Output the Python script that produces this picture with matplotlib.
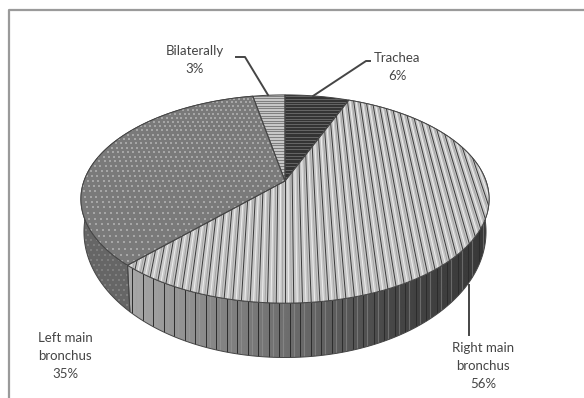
#!/usr/bin/env python3
"""3D-style pie of tumour location, drawn by hand with a perspective disc."""
import numpy as np
import matplotlib
matplotlib.use('Agg')
import matplotlib.pyplot as plt
from matplotlib.patches import Polygon

matplotlib.rcParams['font.family'] = ['Lato', 'DejaVu Sans']

CATEGORIES = ['Trachea', 'Right main\nbronchus', 'Left main\nbronchus', 'Bilaterally']
PERCENTS = [6, 56, 35, 3]

TEXT_COLOR = '#454545'
EDGE = '#454545'

# disc perspective, in pixels
CX, CY = 285, 181
A_TOP, B_TOP = 201, 101
A_BOT, B_BOT = 198, 122
DROP = 29
C = 0.173


def to_px(u, v, a=A_TOP, b=B_TOP, drop=0):
    w = 1 + C * np.asarray(v)
    return CX + a * np.asarray(u) / w, CY + drop - b * np.asarray(v) / w


def rim(f0, f1, bottom=False, n=200):
    t = np.linspace(f0, f1, n) * 2 * np.pi
    if bottom:
        x, y = to_px(np.sin(t), np.cos(t), A_BOT, B_BOT, DROP)
    else:
        x, y = to_px(np.sin(t), np.cos(t))
    return np.column_stack([x, y])


def wedge_poly(f0, f1):
    return np.vstack([[CX, CY], rim(f0, f1)])


def wall_poly(f0, f1):
    return np.vstack([rim(f0, f1), rim(f0, f1, bottom=True)[::-1]])


def add_clip(ax, pts, fc, z):
    patch = Polygon(pts, closed=True, fc=fc, ec='none', zorder=z)
    ax.add_patch(patch)
    return patch


def stripes_on_top(ax, clip, z):
    # constant-u lines run towards the disc's vanishing point
    du = 0.036
    vv = np.array([-1.0, 1.0])
    for k in np.arange(-30, 31):
        u = k * du
        x, y = to_px(np.full(2, u), vv)
        ln, = ax.plot(x, y, color='#3a3a3a', lw=0.7, zorder=z)
        ln.set_clip_path(clip)
        x, y = to_px(np.full(2, u + 0.4 * du), vv)
        ln, = ax.plot(x, y, color='#eeeeee', lw=0.7, zorder=z)
        ln.set_clip_path(clip)
        x, y = to_px(np.full(2, u + 0.72 * du), vv)
        ln, = ax.plot(x, y, color='#9a9a9a', lw=0.5, zorder=z)
        ln.set_clip_path(clip)


def dots_on_top(ax, clip, z):
    uu, vv = np.meshgrid(np.arange(-1.05, 1.05, 0.027), np.arange(-1.05, 1.05, 0.05))
    uu[1::2] += 0.0135
    x, y = to_px(uu.ravel(), vv.ravel())
    pts = ax.scatter(x, y, s=2.0, marker='s', color='#a6a6a6', linewidths=0, zorder=z)
    pts.set_clip_path(clip)


def bands_on_top(ax, clip, color, z, lw=1.0, step=0.045):
    uu = np.array([-1.2, 1.2])
    for v in np.arange(-1, 1.01, step):
        x, y = to_px(uu, np.full(2, v))
        ln, = ax.plot(x, y, color=color, lw=lw, zorder=z)
        ln.set_clip_path(clip)


def gradient_wall(ax, pts, shades, z):
    patch = add_clip(ax, pts, 'none', z)
    x0, x1 = pts[:, 0].min(), pts[:, 0].max()
    y0, y1 = pts[:, 1].min(), pts[:, 1].max()
    xs = np.linspace(0, 1, 256)
    grad = np.interp(xs, np.linspace(0, 1, len(shades)), shades)[None, :]
    im = ax.imshow(grad, extent=(x0, x1, y1, y0), cmap='gray', vmin=0, vmax=1,
                   aspect='auto', zorder=z)
    im.set_clip_path(patch)
    return patch


def main():
    fig = plt.figure(figsize=(5.84, 3.98), dpi=100)
    ax = fig.add_axes([0, 0, 1, 1])

    cum = np.cumsum([0] + PERCENTS) / sum(PERCENTS)
    spans = list(zip(cum[:-1], cum[1:]))

    # side walls of the right and left main bronchus slices
    right = wall_poly(*spans[1])
    clip = gradient_wall(ax, right, [0.66, 0.52, 0.4, 0.27, 0.22], 1)
    for x in np.arange(132, 490, 10.5):
        ln, = ax.plot([x, x], [180, 370], color='#2c2c2c', lw=0.7, zorder=2)
        ln.set_clip_path(clip)
        ln, = ax.plot([x + 4, x + 4], [180, 370], color='#a0a0a0', lw=0.8, alpha=0.45, zorder=2)
        ln.set_clip_path(clip)

    left = wall_poly(*spans[2])
    clip = gradient_wall(ax, left, [0.4, 0.4, 0.4], 1)
    xx, yy = np.meshgrid(np.arange(80, 136, 5.5), np.arange(180, 325, 5.0))
    xx[1::2] += 2.75
    pts = ax.scatter(xx.ravel(), yy.ravel(), s=2.0, marker='s', color='#7e7e7e', linewidths=0, zorder=2)
    pts.set_clip_path(clip)
    for poly in (right, left):
        ax.add_patch(Polygon(poly, closed=True, fc='none', ec=EDGE, lw=0.7, zorder=3))

    # top faces
    clip = add_clip(ax, wedge_poly(*spans[0]), '#343434', 4)
    bands_on_top(ax, clip, '#666666', 5, lw=0.7, step=0.036)

    clip = add_clip(ax, wedge_poly(*spans[1]), '#c6c6c6', 4)
    stripes_on_top(ax, clip, 5)

    clip = add_clip(ax, wedge_poly(*spans[2]), '#7a7a7a', 4)
    dots_on_top(ax, clip, 5)

    clip = add_clip(ax, wedge_poly(*spans[3]), '#cccccc', 4)
    bands_on_top(ax, clip, '#808080', 5, lw=0.8, step=0.032)

    for f0, f1 in spans:
        ax.add_patch(Polygon(wedge_poly(f0, f1), closed=True, fc='none', ec=EDGE, lw=0.7, zorder=6))

    # leader lines
    ax.plot([313, 366, 370], [96, 61, 61], color=EDGE, lw=1.4, zorder=7)
    ax.plot([268, 245, 236], [95, 57, 57], color=EDGE, lw=1.4, zorder=7)
    ax.plot([469, 469], [285, 335], color=EDGE, lw=1.4, zorder=7)

    # labels
    label_pos = [(397, 67), (483, 366), (65, 356), (195, 60)]
    for cat, pct, (x, y) in zip(CATEGORIES, PERCENTS, label_pos):
        ax.text(x, y, f'{cat}\n{pct}%', ha='center', va='center', fontsize=9.5,
                color=TEXT_COLOR, linespacing=1.65, zorder=8)

    # chart frame: only top and left are in view
    ax.plot([9, 9, 584], [398, 10, 10], color='#9a9a9a', lw=1.6, zorder=0)

    ax.set_xlim(0, 584)
    ax.set_ylim(398, 0)
    ax.axis('off')
    fig.savefig('out.png', dpi=100, facecolor='white')
    plt.close(fig)


if __name__ == '__main__':
    main()
